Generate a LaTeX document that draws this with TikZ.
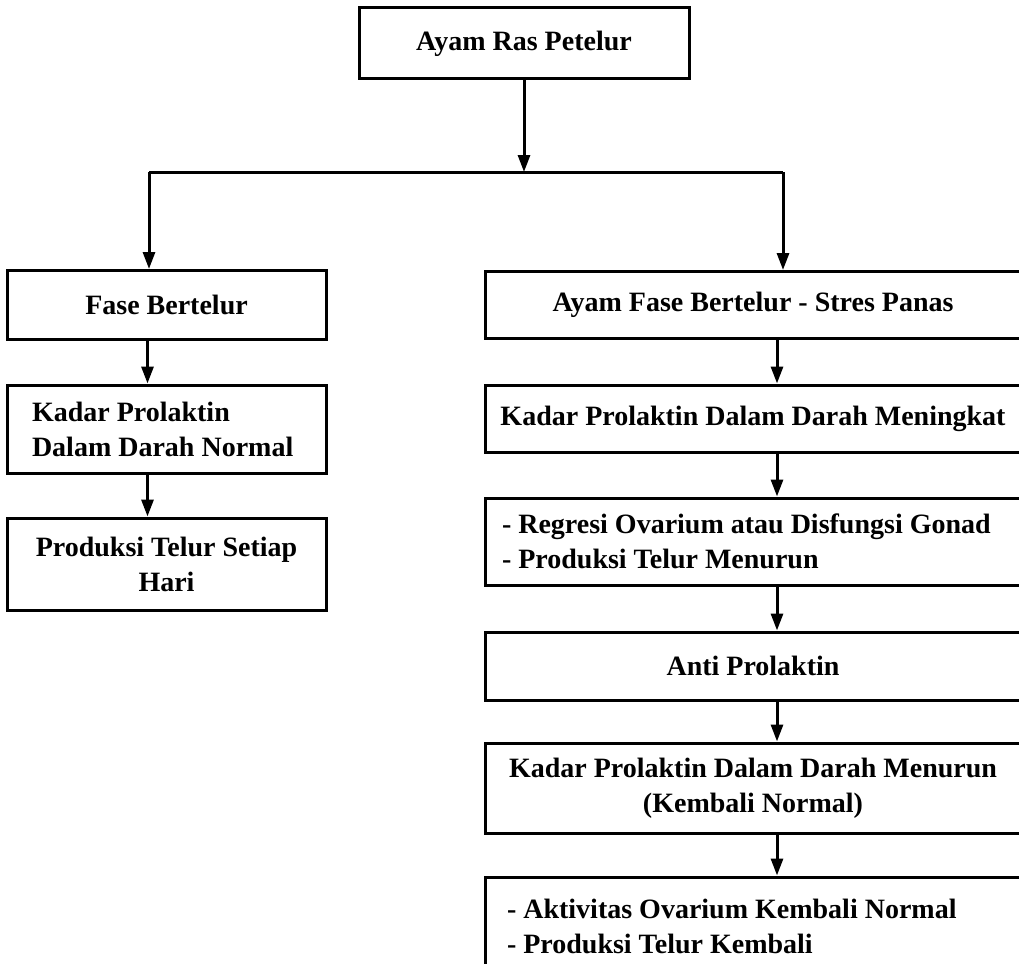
\documentclass[tikz,border=0pt]{standalone}
\usepackage{fontspec}
\setmainfont{Liberation Serif}
\usetikzlibrary{arrows.meta,positioning}

\begin{document}
\begin{tikzpicture}[
  x=1pt, y=-1pt,
  >={Triangle[length=17pt,width=12pt]},
  font=\fontsize{28}{35}\selectfont\bfseries,
  box/.style={draw, line width=3pt, align=center, inner sep=0pt},
  lbox/.style={box, minimum width=319pt},
  rbox/.style={box, minimum width=536pt},
  arr/.style={->, line width=3pt}
]
\useasboundingbox (0,0) rectangle (1019,963);
\clip (0,0) rectangle (1019,963);
% top
\node[box, minimum width=330pt, minimum height=71pt] (ayam) at (524,43.5) {Ayam Ras Petelur};
\coordinate (bl) at (149,172);
\coordinate (br) at (783,172);
% left column
\node[lbox, minimum height=69pt] (fase) at (166.5,305) {Fase Bertelur};
\node[lbox, minimum height=88pt, text width=269pt, align=flush left] (normal) at (166.5,429) {Kadar Prolaktin\\Dalam Darah Normal};
\node[lbox, minimum height=92pt] (harian) at (166.5,564) {Produksi Telur Setiap\\Hari};
% right column
\node[rbox, minimum height=67pt] (stres) at (753,305) {Ayam Fase Bertelur - Stres Panas};
\node[rbox, minimum height=67pt] (naik) at (753,418.5) {Kadar Prolaktin Dalam Darah Meningkat};
\node[rbox, minimum height=87pt, text width=502pt, align=flush left] (regresi) at (753,541.5) {- Regresi Ovarium atau Disfungsi Gonad\\- Produksi Telur Menurun};
\node[rbox, minimum height=68pt] (anti) at (753,666) {Anti Prolaktin};
\node[rbox, minimum height=90pt] (turun) at (753,788) {Kadar Prolaktin Dalam Darah Menurun\\(Kembali Normal)};
\node[rbox, minimum height=98pt, text width=492pt, align=flush left] (aktif) at (753,926) {- Aktivitas Ovarium Kembali Normal\\- Produksi Telur Kembali};
% arrows
\draw[arr] (ayam.south) -- (ayam.south |- bl);
\draw[line width=3pt] (bl) -- (br);
\draw[arr] (bl) -- (bl |- fase.north);
\draw[arr] (br) -- (br |- stres.north);
\foreach \a/\b in {fase/normal, normal/harian} {\draw[arr] ([xshift=-19pt]\a.south) -- ([xshift=-19pt]\b.north);}
\foreach \a/\b in {stres/naik, naik/regresi, regresi/anti, anti/turun, turun/aktif} {\draw[arr] ([xshift=24pt]\a.south) -- ([xshift=24pt]\b.north);}
\end{tikzpicture}
\end{document}
